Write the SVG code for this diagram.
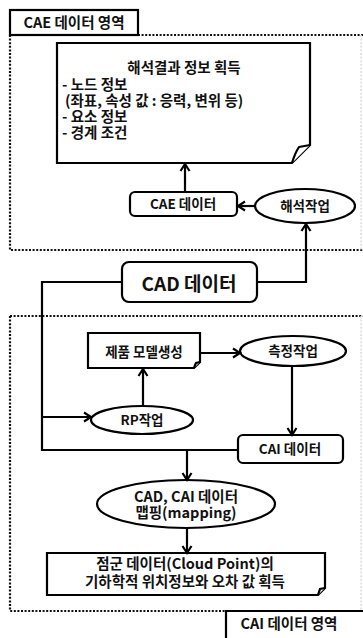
<svg xmlns="http://www.w3.org/2000/svg" width="363" height="638" viewBox="0 0 363 638">
<style>
text{font-family:"Noto Sans CJK KR","Malgun Gothic",sans-serif;font-weight:700;fill:#111;text-anchor:middle}
.lt{text-anchor:start}
.sh{fill:#fff;stroke:#000;stroke-width:2.2}
.dot{fill:none;stroke:#111;stroke-width:2.2;stroke-dasharray:2 1.6}
.faint{fill:none;stroke:#ddd;stroke-width:1.5;stroke-dasharray:2 1.6}
.c{fill:none;stroke:#000;stroke-width:2.2}
.t14{font-size:14.5px}
.t13{font-size:13.5px}
</style>
<defs>
<marker id="ah" markerUnits="userSpaceOnUse" markerWidth="12" markerHeight="12" refX="9" refY="6" orient="auto">
<path d="M2,1.5 L9,6 L2,10.5" fill="none" stroke="#000" stroke-width="2.2"/>
</marker>
</defs>
<rect width="363" height="638" fill="#fff"/>
<g id="regions">
<path class="dot" d="M138,35 H363 M10,35 V250 H363"/>
<path class="dot" d="M10,316 H363 M10,316 V611 H226"/>
<path class="faint" d="M361,35 V250 M361,316 V611"/>
</g>
<g id="cae-area-label">
<rect class="sh" x="10" y="10" width="128" height="25"/>
<text class="t14" x="74" y="28">CAE 데이터 영역</text>
</g>
<g id="cai-area-label">
<path class="sh" d="M226,640 V611 H365"/>
<text class="t14" x="289" y="629">CAI 데이터 영역</text>
</g>
<g id="result-note">
<path class="sh" d="M57,43 H310 V145 L292,163 H57 Z"/>
<path class="sh" d="M310,145 L299,147 Q295,153 292,163" stroke-linejoin="round"/>
<text class="t14" x="184" y="73">해석결과 정보 획득</text>
<text class="t14 lt" x="62" y="90">- 노드 정보</text>
<text class="t14 lt" x="65" y="106">(좌표, 속성 값 : 응력, 변위 등)</text>
<text class="t14 lt" x="62" y="122">- 요소 정보</text>
<text class="t14 lt" x="62" y="138">- 경계 조건</text>
</g>
<g id="cae-data">
<rect class="sh" x="130" y="192" width="107" height="24" rx="5"/>
<text class="t13" x="183" y="209">CAE 데이터</text>
</g>
<g id="analysis">
<ellipse class="sh" cx="305" cy="206" rx="50" ry="17"/>
<text class="t13" x="305" y="211">해석작업</text>
</g>
<g id="cad-data">
<rect class="sh" x="122" y="262" width="135" height="40" rx="7"/>
<text x="189" y="291" style="font-size:19px">CAD 데이터</text>
</g>
<g id="product-model">
<path class="sh" d="M88,333 H200 V362 L194,368 H88 Z"/>
<path class="sh" d="M200,362 L196,363 Q195,365 194,368" stroke-width="1.5"/>
<text class="t13" x="144" y="357">제품 모델생성</text>
</g>
<g id="measure">
<ellipse class="sh" cx="293" cy="351" rx="53" ry="15"/>
<text class="t13" x="293" y="356">측정작업</text>
</g>
<g id="rp">
<ellipse class="sh" cx="142" cy="420" rx="51" ry="14"/>
<text class="t13" x="142" y="425">RP작업</text>
</g>
<g id="cai-data">
<rect class="sh" x="238" y="435" width="105" height="28" rx="5"/>
<text class="t13" x="290" y="454">CAI 데이터</text>
</g>
<g id="mapping">
<ellipse class="sh" cx="186" cy="504" rx="89" ry="24"/>
<text class="t14" x="186" y="502">CAD, CAI 데이터</text>
<text class="t14" x="186" y="518">맵핑(mapping)</text>
</g>
<g id="result-cai">
<path class="sh" d="M47,553 H325 V588 L318,595 H47 Z"/>
<path class="sh" d="M325,588 L320,589 Q319,592 318,595" stroke-width="1.5"/>
<text class="t14" x="185" y="569">점군 데이터(Cloud Point)의</text>
<text class="t14" x="185" y="587">기하학적 위치정보와 오차 값 획득</text>
</g>
<g id="connectors">
<path class="c" d="M185,192 V164" marker-end="url(#ah)"/>
<path class="c" d="M255,206 H238" marker-end="url(#ah)"/>
<path class="c" d="M257,282 H306 V224" marker-end="url(#ah)"/>
<path class="c" d="M122,282 H42 V450 H238"/>
<path class="c" d="M42,417 H91" marker-end="url(#ah)"/>
<path class="c" d="M143,406 V369" marker-end="url(#ah)"/>
<path class="c" d="M200,353 H240" marker-end="url(#ah)"/>
<path class="c" d="M292,366 V435" marker-end="url(#ah)"/>
<path class="c" d="M187,450 V480" marker-end="url(#ah)"/>
<path class="c" d="M187,528 V553" marker-end="url(#ah)"/>
</g>
</svg>
